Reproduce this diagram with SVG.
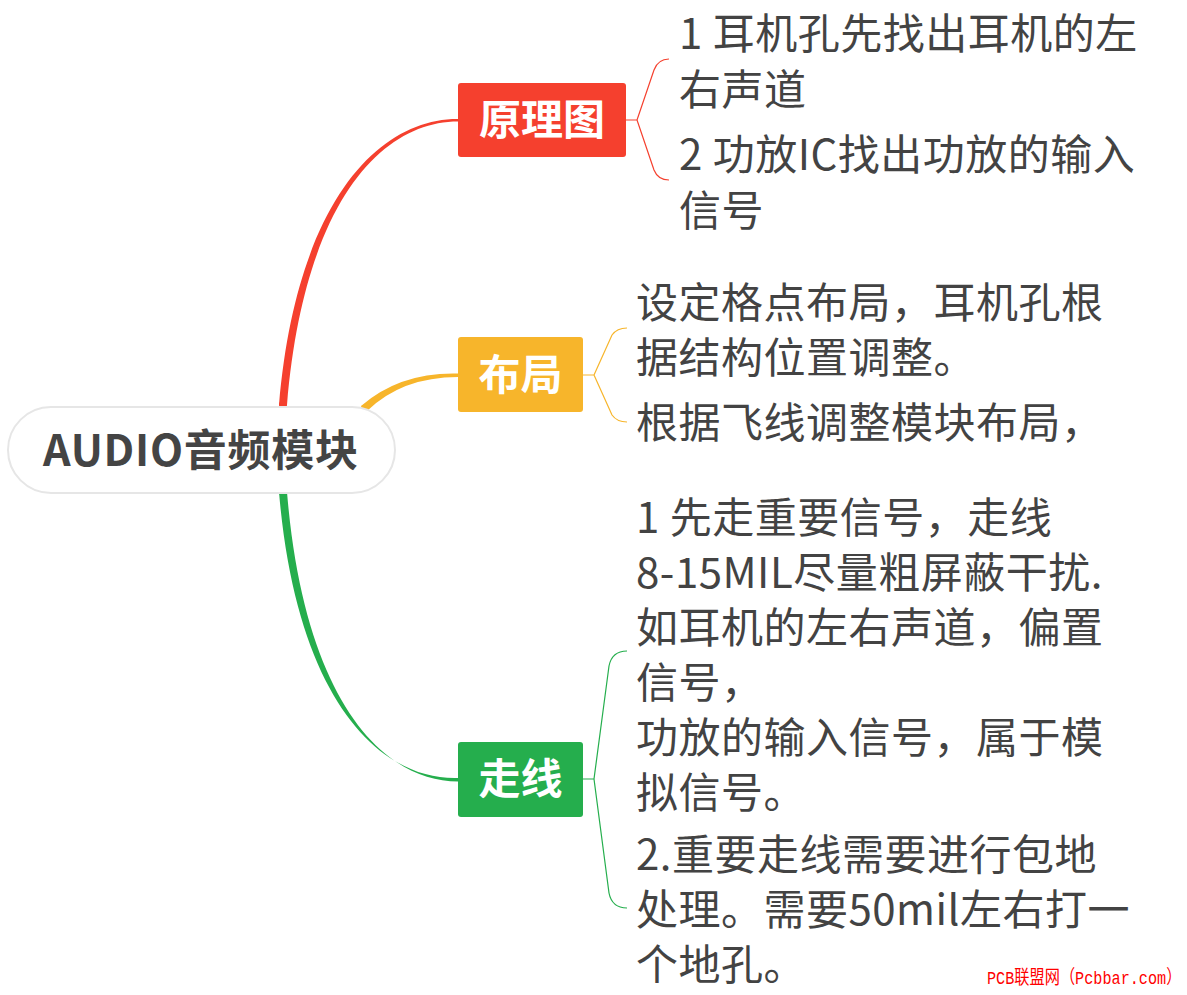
<svg xmlns="http://www.w3.org/2000/svg" width="1187" height="995" viewBox="0 0 1187 995">
<style>
.c{font-family:"Noto Sans CJK SC","Noto Sans",sans-serif;font-size:42px;letter-spacing:0.5px;fill:#434343}
.b{font-family:"Noto Sans CJK SC","Noto Sans",sans-serif;font-size:42px;font-weight:700;fill:#ffffff;text-anchor:middle}
.br{fill:none;stroke-width:1.2}
</style>
<rect width="1187" height="995" fill="#ffffff"/>
<g id="connectors">
  <path d="M279,405 C296.5,200 380,118.5 458,119 L458,121.5 C383,121.5 304,200 287,405 Z" fill="#F5402E"/>
  <circle cx="283" cy="405" r="4" fill="#F5402E"/>
  <path d="M361,406 Q400,372 458,373.5 L458,377 Q402,377 367,411 Z" fill="#F7B52B"/>
  <circle cx="364" cy="408.5" r="3.3" fill="#F7B52B"/>
  <path d="M279,492 C296.5,700 380,780.5 458,778 L458,781.5 C383,781.5 304,700 287,492 Z" fill="#25AE4D"/>
  <circle cx="283" cy="492" r="4" fill="#25AE4D"/>
  <path class="br" stroke="#F5402E" d="M626,120 L637,120 M669,59 Q658,59 654,70 L637,120 L654,170 Q658,180 669,180"/>
  <path class="br" stroke="#F7B52B" d="M583,375 L594,375 M627,328 Q617,328 612,335 L594,375 L612,415 Q617,422 627,422"/>
  <path class="br" stroke="#25AE4D" d="M583,779 L594,779 M627,651 Q612,651 609,666 L594,779 L609,893 Q612,908 627,908"/>
</g>
<g id="root">
  <rect x="8" y="407" width="387" height="86" rx="43" fill="#ffffff" stroke="#e6e6e6" stroke-width="2"/>
  <text x="43" y="466" font-family="'Noto Sans CJK SC','Noto Sans',sans-serif" font-size="43" font-weight="700" fill="#444444" textLength="315" lengthAdjust="spacing">AUDIO音频模块</text>
</g>
<g id="node-yuanlitu">
  <rect x="458" y="83" width="168" height="74" rx="3" fill="#F5402E"/>
  <text class="b" x="542" y="135">原理图</text>
</g>
<g id="node-buju">
  <rect x="458" y="337" width="125" height="75" rx="3" fill="#F7B52B"/>
  <text class="b" x="520.5" y="390">布局</text>
</g>
<g id="node-zouxian">
  <rect x="458" y="742" width="125" height="75" rx="3" fill="#25AE4D"/>
  <text class="b" x="520.5" y="794">走线</text>
</g>
<g id="text-yuanlitu">
  <text class="c" x="679" y="49">1 耳机孔先找出耳机的左</text>
  <text class="c" x="679" y="105">右声道</text>
  <text class="c" x="679" y="170">2 功放IC找出功放的输入</text>
  <text class="c" x="679" y="226">信号</text>
</g>
<g id="text-buju">
  <text class="c" x="636" y="318">设定格点布局，耳机孔根</text>
  <text class="c" x="636" y="373">据结构位置调整。</text>
  <text class="c" x="636" y="438">根据飞线调整模块布局，</text>
</g>
<g id="text-zouxian">
  <text class="c" x="636" y="533">1 先走重要信号，走线</text>
  <text class="c" x="636" y="588">8-15MIL尽量粗屏蔽干扰.</text>
  <text class="c" x="636" y="643">如耳机的左右声道，偏置</text>
  <text class="c" x="636" y="698">信号，</text>
  <text class="c" x="636" y="753">功放的输入信号，属于模</text>
  <text class="c" x="636" y="808">拟信号。</text>
  <text class="c" x="636" y="870">2.重要走线需要进行包地</text>
  <text class="c" x="636" y="925">处理。需要50mil左右打一</text>
  <text class="c" x="636" y="980">个地孔。</text>
</g>
<text transform="translate(987,984) scale(0.8,1)" font-family="'Liberation Mono','Noto Sans CJK SC',monospace" font-size="19" fill="#ff0000">PCB联盟网（Pcbbar.com）</text>
</svg>
